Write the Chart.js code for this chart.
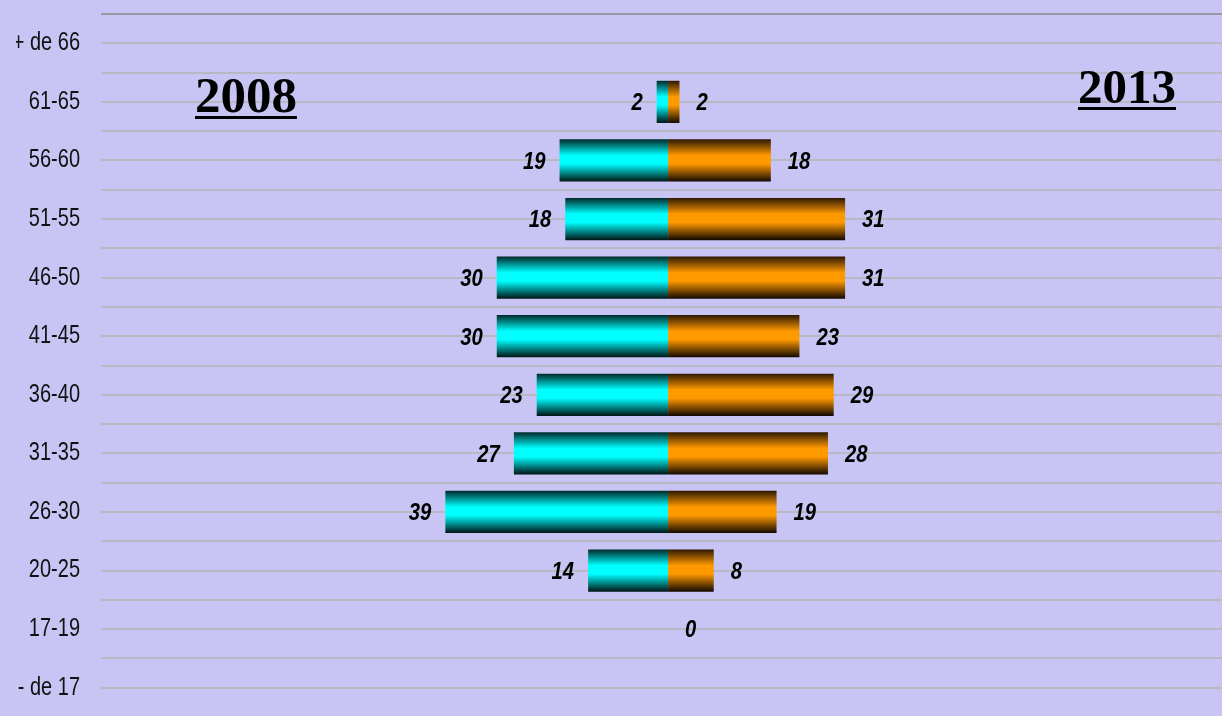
<!DOCTYPE html>
<html>
<head>
<meta charset="utf-8">
<script src="https://cdn.jsdelivr.net/npm/chart.js@4.4.1/dist/chart.umd.min.js"></script>
<style>
  html, body { margin: 0; padding: 0; overflow: hidden; background: #c8c5f5; }
  #wrap { position: relative; width: 1222px; height: 718px; }
  .year {
    position: absolute;
    font-family: "Liberation Serif", "Times New Roman", serif;
    font-weight: bold;
    font-size: 51px;
    line-height: 52px;
    color: #000;
    text-decoration: underline;
    text-decoration-thickness: 3px;
    text-underline-offset: 4px;
  }
</style>
</head>
<body>
<div id="wrap">
  <canvas id="chart" width="1222" height="718"></canvas>
  <div class="year" style="left:195px; top:69px;">2008</div>
  <div class="year" style="left:1078px; top:61px; font-size:49px;">2013</div>
</div>
<script>
// age groups, top to bottom
const ageGroups = ["+ de 66", "61-65", "56-60", "51-55", "46-50", "41-45", "36-40", "31-35", "26-30", "20-25", "17-19", "- de 17"];
const values2008 = [null, 2, 19, 18, 30, 30, 23, 27, 39, 14, null, null];
const values2013 = [null, 2, 18, 31, 31, 23, 29, 28, 19, 8, 0, null];

const BAR_PCT = 0.72;
const cyanStops = ["#002a2a", "#00ffff", "#00ffff", "#001414"];
const orangeStops = ["#2e1800", "#ff9900", "#ff9900", "#120800"];

// vertical shading on each bar, dark edges top and bottom
function barGradient(context, stops) {
  const chart = context.chart;
  const y = chart.scales.y;
  if (!chart.chartArea || !y || context.dataIndex === undefined) return stops[1];
  const c = y.getPixelForValue(context.dataIndex);
  const h = (y.bottom - y.top) / ageGroups.length * BAR_PCT;
  const g = chart.ctx.createLinearGradient(0, c - h / 2, 0, c + h / 2);
  g.addColorStop(0, stops[0]);
  g.addColorStop(0.38, stops[1]);
  g.addColorStop(0.58, stops[2]);
  g.addColorStop(1, stops[3]);
  return g;
}

// narrow text: squeeze horizontally around the anchor x
function narrowText(ctx, text, x, y, squeeze) {
  ctx.save();
  ctx.translate(x, y);
  ctx.scale(squeeze, 1);
  ctx.fillText(text, 0, 0);
  ctx.restore();
}

// value labels beside the bar ends
const barLabels = {
  id: "barLabels",
  afterDatasetsDraw(chart) {
    const ctx = chart.ctx;
    ctx.save();
    ctx.font = "italic bold 23px 'Liberation Sans', Arial, sans-serif";
    ctx.fillStyle = "#000";
    ctx.textBaseline = "middle";
    chart.data.datasets.forEach((ds, di) => {
      const meta = chart.getDatasetMeta(di);
      meta.data.forEach((el, i) => {
        const v = ds.data[i];
        if (v === null) return;
        if (di === 0) {
          ctx.textAlign = "right";
          narrowText(ctx, String(Math.abs(v)), el.x - 14, el.y + 2, 0.88);
        } else {
          ctx.textAlign = "left";
          narrowText(ctx, String(v), el.x + 17, el.y + 2, 0.88);
        }
      });
    });
    ctx.restore();
  }
};

new Chart(document.getElementById("chart").getContext("2d"), {
  type: "bar",
  data: {
    labels: ageGroups,
    datasets: [
      {
        label: "2008",
        data: values2008.map(v => v === null ? null : -v),
        backgroundColor: c => barGradient(c, cyanStops),
        borderWidth: 0
      },
      {
        label: "2013",
        data: values2013,
        backgroundColor: c => barGradient(c, orangeStops),
        borderWidth: 0
      }
    ]
  },
  options: {
    indexAxis: "y",
    responsive: false,
    animation: false,
    barPercentage: BAR_PCT,
    categoryPercentage: 1,
    layout: { padding: { top: 14, left: 0, right: 0, bottom: 1 } },
    plugins: { legend: { display: false }, tooltip: { enabled: false } },
    scales: {
      x: { display: false, stacked: true, min: -99.3, max: 97 },
      y: {
        stacked: true,
        offset: true,
        border: { display: false },
        grid: {
          offset: true,
          drawTicks: false,
          lineWidth: 2,
          color: c => c.index === 0 ? "#999aa2" : "#b9b9c3"
        },
        ticks: {
          padding: 21,
          color: "#111",
          font: { family: "'Liberation Sans', Arial, sans-serif", size: 25 }
        },
        afterFit: s => {
          s.width = 101;
          s.paddingTop = 0;
          s.paddingBottom = 0;
        },
        afterUpdate: s => {
          // tick labels in the reference are condensed
          if (s._narrowed) return;
          s._narrowed = true;
          const draw = s.drawLabels;
          s.drawLabels = function (area) {
            const ctx = this.ctx;
            const ax = this.right - 21;
            ctx.save();
            ctx.translate(ax, 0);
            ctx.scale(0.8, 1);
            ctx.translate(-ax, 0);
            draw.call(this, area);
            ctx.restore();
          };
        }
      },
      y2: {
        type: "category",
        labels: ageGroups,
        position: "left",
        offset: true,
        border: { display: false },
        grid: { offset: false, drawTicks: false, lineWidth: 2, color: "#b9b9c3" },
        ticks: { display: false },
        afterFit: s => {
          s.width = 0;
          s.paddingTop = 0;
          s.paddingBottom = 0;
        }
      }
    }
  },
  plugins: [barLabels]
});
</script>
</body>
</html>
